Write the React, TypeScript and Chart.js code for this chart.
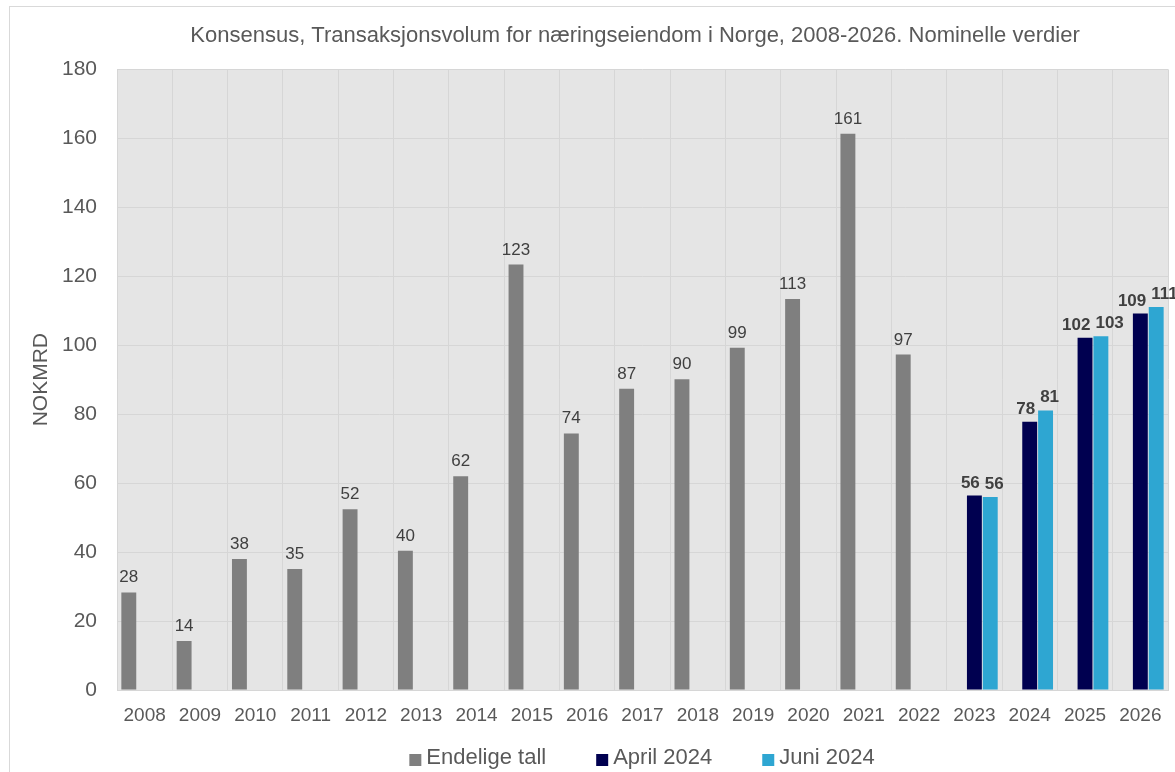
import React, { useEffect, useRef } from "react";
import { Chart, registerables } from "chart.js";

Chart.register(...registerables);

const FONT = "'Liberation Sans', Arial, Helvetica, sans-serif";

const titleText =
  "Konsensus, Transaksjonsvolum for næringseiendom i Norge, 2008-2026. Nominelle verdier";
const yAxisTitle = "NOKMRD";

const years = [
  "2008", "2009", "2010", "2011", "2012", "2013", "2014", "2015", "2016", "2017",
  "2018", "2019", "2020", "2021", "2022", "2023", "2024", "2025", "2026",
];

const finalValues: (number | null)[] = [
  28.3, 14.2, 38.0, 35.1, 52.4, 40.4, 62.0, 123.4, 74.4, 87.4,
  90.1, 99.3, 113.4, 161.3, 97.3, null, null, null, null,
];

const april2024: (number | null)[] = [
  null, null, null, null, null, null, null, null, null, null,
  null, null, null, null, null, 56.4, 77.8, 102.2, 109.2,
];

const june2024: (number | null)[] = [
  null, null, null, null, null, null, null, null, null, null,
  null, null, null, null, null, 56.0, 81.1, 102.6, 111.1,
];

const seriesNames = ["Endelige tall", "April 2024", "Juni 2024"];
const seriesColors = ["#7f7f7f", "#000050", "#2ea6d2"];

const yMin = 0;
const yMax = 180;
const yStep = 20;

const plotBackground = {
  id: "plotBackground",
  beforeDraw(chart: any) {
    const { ctx, chartArea } = chart;
    ctx.save();
    ctx.fillStyle = "#e5e5e5";
    ctx.fillRect(chartArea.left, chartArea.top, chartArea.width, chartArea.height);
    ctx.restore();
  },
};

const valueLabels = {
  id: "valueLabels",
  afterDatasetsDraw(chart: any) {
    const ctx = chart.ctx;
    const n = chart.data.labels.length;
    for (let j = 0; j < n; j++) {
      const items: any[] = [];
      chart.data.datasets.forEach((ds: any, i: number) => {
        const v = ds.data[j];
        if (v == null) return;
        const meta = chart.getDatasetMeta(i);
        const bar = meta.data[j];
        const bold = i > 0;
        const font = `${bold ? "bold " : ""}17px ${FONT}`;
        ctx.save();
        ctx.font = font;
        const text = String(Math.round(v));
        const w = ctx.measureText(text).width;
        ctx.restore();
        items.push({ x: bar.x, y: bar.y - (bold ? 8 : 10), text, font, w });
      });
      items.sort((a, b) => a.x - b.x);
      for (let k = 1; k < items.length; k++) {
        const a = items[k - 1];
        const b = items[k];
        const overlap = a.x + a.w / 2 + 5 - (b.x - b.w / 2);
        if (overlap > 0) {
          a.x -= overlap / 2;
          b.x += overlap / 2;
        }
      }
      items.forEach((it) => {
        ctx.save();
        ctx.font = it.font;
        ctx.fillStyle = "#404040";
        ctx.textAlign = "center";
        ctx.textBaseline = "alphabetic";
        ctx.fillText(it.text, it.x, it.y);
        ctx.restore();
      });
    }
  },
};

const bottomLegend = {
  id: "bottomLegend",
  afterDraw(chart: any) {
    const ctx = chart.ctx;
    const font = `22px ${FONT}`;
    const box = 12;
    const boxGap = 5;
    const itemGap = 50;
    ctx.save();
    ctx.font = font;
    const items = chart.data.datasets.map((ds: any) => ({
      label: ds.label,
      color: ds.backgroundColor,
      w: ctx.measureText(ds.label).width,
    }));
    const total =
      items.reduce((s: number, it: any) => s + box + boxGap + it.w, 0) +
      itemGap * (items.length - 1);
    let x = chart.width / 2 + 7 - total / 2;
    const cy = chart.height - 14;
    items.forEach((it: any) => {
      ctx.fillStyle = it.color;
      ctx.fillRect(x, cy - 4, box, box);
      ctx.fillStyle = "#595959";
      ctx.textAlign = "left";
      ctx.textBaseline = "middle";
      ctx.fillText(it.label, x + box + boxGap, cy);
      x += box + boxGap + it.w + itemGap;
    });
    ctx.restore();
  },
};

export default function App() {
  const canvasRef = useRef<HTMLCanvasElement | null>(null);

  useEffect(() => {
    if (!canvasRef.current) return;
    Chart.defaults.font.family = FONT;
    const chart = new Chart(canvasRef.current, {
      type: "bar",
      data: {
        labels: years,
        datasets: [
          { label: seriesNames[0], data: finalValues, backgroundColor: seriesColors[0] },
          { label: seriesNames[1], data: april2024, backgroundColor: seriesColors[1] },
          { label: seriesNames[2], data: june2024, backgroundColor: seriesColors[2] },
        ],
      },
      options: {
        responsive: false,
        animation: false,
        devicePixelRatio: 1,
        datasets: {
          bar: {
            categoryPercentage: 0.86,
            barPercentage: 0.94,
          },
        },
        layout: { padding: 0 },
        plugins: {
          legend: { display: false },
          tooltip: { enabled: false },
          title: {
            display: true,
            text: titleText,
            color: "#595959",
            font: { size: 22, weight: "normal", family: FONT },
            padding: { top: 16, bottom: 20 },
          },
        },
        scales: {
          x: {
            grid: { color: "#d6d6d6", lineWidth: 1, drawTicks: false, offset: true },
            border: { display: true, color: "#d6d6d6" },
            ticks: {
              color: "#595959",
              font: { size: 19, family: FONT },
              padding: 14,
              maxRotation: 0,
              autoSkip: false,
            },
            afterFit(scale: any) {
              scale.height = 82;
            },
          },
          y: {
            min: yMin,
            max: yMax,
            grid: { color: "#d6d6d6", lineWidth: 1, drawTicks: false },
            border: { display: false },
            ticks: {
              stepSize: yStep,
              color: "#595959",
              font: { size: 21, family: FONT },
              padding: 20,
            },
            title: {
              display: true,
              text: yAxisTitle,
              color: "#595959",
              font: { size: 21, family: FONT },
              padding: { top: 19, bottom: 0 },
            },
            afterFit(scale: any) {
              scale.width = 107;
            },
          },
          yRight: {
            type: "linear",
            position: "right",
            grid: { display: false },
            ticks: { display: false },
            border: { display: false },
            afterFit(scale: any) {
              scale.width = 92;
            },
          },
        },
      } as any,
      plugins: [plotBackground, valueLabels, bottomLegend],
    });
    return () => chart.destroy();
  }, []);

  return (
    <div
      style={{
        position: "fixed",
        left: 9,
        top: 6,
        width: 1165,
        height: 766,
        borderLeft: "1px solid #d9d9d9",
        borderTop: "1px solid #d9d9d9",
        overflow: "hidden",
        background: "#ffffff",
      }}
    >
      <canvas ref={canvasRef} width={1250} height={765} style={{ display: "block" }} />
    </div>
  );
}
